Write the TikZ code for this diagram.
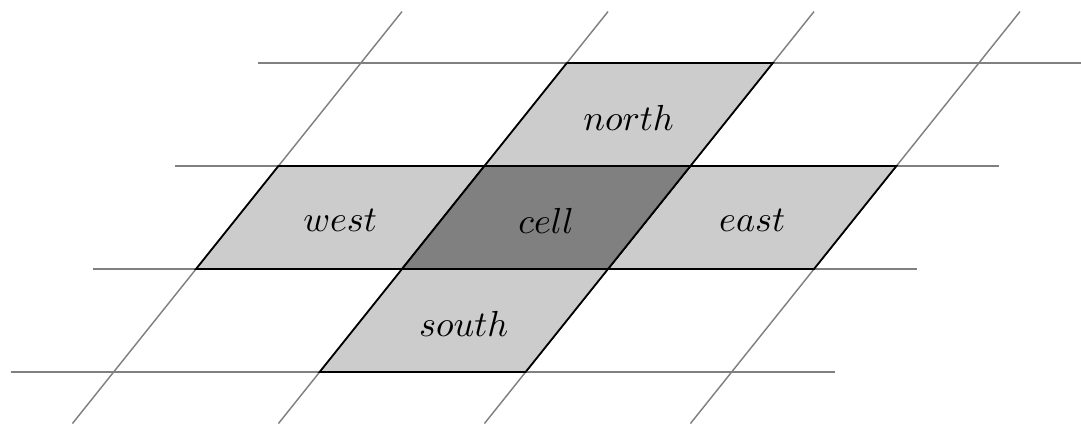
\documentclass[tikz,border=0pt]{standalone}
\begin{document}
\begin{tikzpicture}[
  gridline/.style={draw=gray, line width=0.4pt},
  nbcell/.style={fill=black!20, draw=black, line width=0.5pt},
  centercell/.style={fill=black!50, draw=black, line width=0.5pt},
  lbl/.style={font=\normalsize, yshift=-0.03cm}
]
\useasboundingbox (-3.903,-1.524) rectangle (6.592,2.612);
% grid lines
\draw[gridline] (-3.8,-1) -- (4.2,-1);
\draw[gridline] (-3,0) -- (5,0);
\draw[gridline] (-2.2,1) -- (5.8,1);
\draw[gridline] (-1.4,2) -- (6.6,2);
\draw[gridline] (-3.2,-1.5) -- (0,2.5);
\draw[gridline] (-1.2,-1.5) -- (2,2.5);
\draw[gridline] (0.8,-1.5) -- (4,2.5);
\draw[gridline] (2.8,-1.5) -- (6,2.5);
% cells
\draw[nbcell] (0.8,1) -- (2.8,1) -- (3.6,2) -- (1.6,2) -- cycle;
\draw[nbcell] (-0.8,-1) -- (1.2,-1) -- (2,0) -- (0,0) -- cycle;
\draw[nbcell] (-2,0) -- (0,0) -- (0.8,1) -- (-1.2,1) -- cycle;
\draw[nbcell] (2,0) -- (4,0) -- (4.8,1) -- (2.8,1) -- cycle;
\draw[centercell] (0,0) -- (2,0) -- (2.8,1) -- (0.8,1) -- cycle;
% labels
\node[lbl] (lnorth) at (2.2,1.5) {$north$};
\node[lbl] (lsouth) at (0.6,-0.5) {$south$};
\node[lbl] (lwest) at (-0.6,0.5) {$west$};
\node[lbl] (least) at (3.4,0.5) {$east$};
\node[lbl] (lcell) at (1.4,0.5) {$cell$};
\end{tikzpicture}
\end{document}
